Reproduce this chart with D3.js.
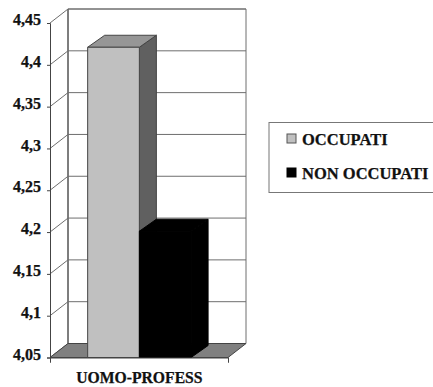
<!DOCTYPE html>
<html>
<head>
<meta charset="utf-8">
<script src="https://cdn.jsdelivr.net/npm/d3@7"></script>
<style>
html, body { margin: 0; padding: 0; background: #fff; }
svg { display: block; }
text { font-family: "Liberation Serif", serif; font-weight: bold; fill: #111; stroke: #111; stroke-width: 0.25px; }
</style>
</head>
<body>
<svg id="chart" width="433" height="387"></svg>
<script>
const categories = ["UOMO-PROFESS"];
const seriesNames = ["OCCUPATI", "NON OCCUPATI"];
const seriesValues = [[4.421], [4.201]];
const seriesFront = ["#c0c0c0", "#000000"];
const seriesTop = ["#969696", "#000000"];
const seriesSide = ["#606060", "#000000"];
const tickValues = [4.05, 4.1, 4.15, 4.2, 4.25, 4.3, 4.35, 4.4, 4.45];

const svg = d3.select("#chart");
const comma = d3.format(".2f");
const tickText = v => comma(v).replace(/0$/, "").replace(".", ",");

const plot = { left: 50, right: 228, top: 23, bottom: 357.5 };
const wall = { dx: 18, dy: -14 };   // offset of the back wall
const bar3d = { dx: 17, dy: -12 };  // extrusion of each column
const lineColor = "#6e6e6e";

const y = d3.scaleLinear().domain([4.05, 4.45]).range([plot.bottom, plot.top]);
const x0 = d3.scaleBand().domain(categories).range([plot.left, plot.right])
  .paddingInner(0.419).paddingOuter(0.2095).align(0.505);
const x1 = d3.scaleBand().domain(seriesNames).range([0, x0.bandwidth()]);

const poly = pts => pts.map(p => p.join(",")).join(" ");

// Back wall and left wall
svg.append("polygon")
  .attr("points", poly([[plot.left + wall.dx, y(4.45) + wall.dy], [plot.right + wall.dx, y(4.45) + wall.dy],
    [plot.right + wall.dx, y(4.05) + wall.dy], [plot.left + wall.dx, y(4.05) + wall.dy]]))
  .attr("fill", "#fff").attr("stroke", lineColor);

svg.append("line")
  .attr("x1", plot.left + wall.dx).attr("x2", plot.left + wall.dx)
  .attr("y1", y(4.45) + wall.dy).attr("y2", y(4.05) + wall.dy)
  .attr("stroke", "#444");

// Gridlines run along the back wall and step down the side wall
const grid = svg.append("g").attr("fill", "none").attr("stroke", lineColor);
tickValues.forEach(v => {
  grid.append("polyline").attr("points", poly([
    [plot.left, y(v)],
    [plot.left + wall.dx, y(v) + wall.dy],
    [plot.right + wall.dx, y(v) + wall.dy]
  ]));
});

// Floor
svg.append("polygon")
  .attr("points", poly([[plot.left, y(4.05)], [plot.left + wall.dx, y(4.05) + wall.dy],
    [plot.right + wall.dx, y(4.05) + wall.dy], [plot.right, y(4.05)]]))
  .attr("fill", "#808080").attr("stroke", "#444");

// Columns
seriesNames.forEach((name, i) => {
  categories.forEach((cat, j) => {
    const v = seriesValues[i][j];
    const xl = x0(cat) + x1(name);
    const xr = xl + x1.bandwidth();
    const yt = y(v);
    const yb = y(4.05);
    const g = svg.append("g").attr("stroke", i === 0 ? "#444" : "#000").attr("stroke-linejoin", "round");
    g.append("polygon").attr("fill", seriesSide[i]).attr("points", poly([
      [xr, yt], [xr + bar3d.dx, yt + bar3d.dy], [xr + bar3d.dx, yb + bar3d.dy], [xr, yb]]));
    g.append("polygon").attr("fill", seriesTop[i]).attr("points", poly([
      [xl, yt], [xl + bar3d.dx, yt + bar3d.dy], [xr + bar3d.dx, yt + bar3d.dy], [xr, yt]]));
    g.append("rect").attr("x", xl).attr("y", yt)
      .attr("width", x1.bandwidth()).attr("height", yb - yt).attr("fill", seriesFront[i]);
  });
});

// Value axis
const yAxis = svg.append("g").attr("transform", `translate(${plot.left},0)`)
  .call(d3.axisLeft(y).tickValues(tickValues).tickFormat(tickText).tickSize(3).tickPadding(6));
yAxis.select(".domain").attr("stroke", "#444");
yAxis.selectAll(".tick line").attr("stroke", "#444");
yAxis.selectAll(".tick text")
  .attr("font-size", 16).attr("dy", "0.1em")
  .style("font-family", '"Liberation Serif", serif').style("font-weight", "bold").attr("fill", "#111");

// Category axis
const xAxis = svg.append("g").attr("transform", `translate(0,${plot.bottom})`)
  .call(d3.axisBottom(d3.scaleLinear().domain([0, 1]).range([plot.left, plot.right])).tickValues([0, 1]).tickFormat("").tickSize(5));
xAxis.select(".domain").attr("stroke", "#444");
xAxis.selectAll(".tick line").attr("stroke", "#444");

svg.append("text")
  .attr("x", x0(categories[0]) + x0.bandwidth() / 2)
  .attr("y", 383)
  .attr("text-anchor", "middle")
  .attr("font-size", 15.7)
  .text(categories[0]);

// Legend
const legend = svg.append("g");
legend.append("rect").attr("x", 269).attr("y", 122.5).attr("width", 170).attr("height", 70)
  .attr("fill", "#fff").attr("stroke", "#777");
const legendY = d3.scalePoint().domain(seriesNames).range([139, 173]);
seriesNames.forEach((name, i) => {
  legend.append("rect").attr("x", 287).attr("y", legendY(name) - 5).attr("width", 9).attr("height", 9)
    .attr("fill", seriesFront[i]).attr("stroke", i === 0 ? "#555" : "#000");
  legend.append("text").attr("x", 302).attr("y", legendY(name) + 6).attr("font-size", 16.5).text(name);
});
</script>
</body>
</html>
